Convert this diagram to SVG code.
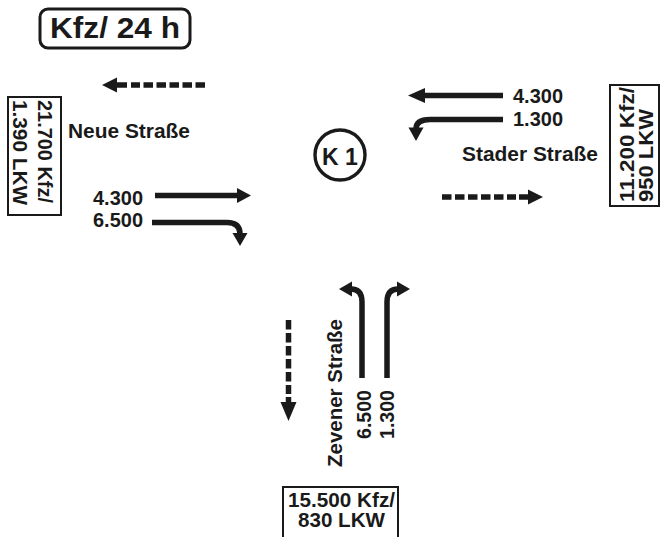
<svg xmlns="http://www.w3.org/2000/svg" width="661" height="537" viewBox="0 0 661 537">
<style>
text{font-family:"Liberation Sans",Arial,sans-serif;font-weight:bold;fill:#1a1a1a}
.lbl{font-size:20px}
.box{fill:none;stroke:#1a1a1a;stroke-width:2}
.shaft{fill:none;stroke:#1a1a1a;stroke-width:5.5}
.dash{fill:none;stroke:#1a1a1a;stroke-width:5.5;stroke-dasharray:9.5 3.5}
.head{fill:#1a1a1a}
</style>
<rect width="661" height="537" fill="#fff"/>
<g id="title">
<rect x="40" y="9" width="150" height="39" rx="8" fill="none" stroke="#1a1a1a" stroke-width="3"/>
<text x="50" y="38" font-size="30" textLength="130" lengthAdjust="spacingAndGlyphs">Kfz/ 24 h</text>
</g>
<g id="k1">
<circle cx="340" cy="155" r="25" fill="none" stroke="#1a1a1a" stroke-width="3.4"/>
<text x="340" y="165" font-size="23" text-anchor="middle">K 1</text>
</g>
<g id="neue-strasse">
<rect class="box" x="8" y="97" width="53" height="118"/>
<text class="lbl" transform="translate(38,100) rotate(90)" textLength="103" lengthAdjust="spacingAndGlyphs">21.700 Kfz/</text>
<text class="lbl" transform="translate(13,100) rotate(90)" textLength="105" lengthAdjust="spacingAndGlyphs">1.390 LKW</text>
<text class="lbl" x="68" y="138" textLength="122" lengthAdjust="spacingAndGlyphs">Neue Straße</text>
<text class="lbl" x="93" y="205" textLength="50" lengthAdjust="spacingAndGlyphs">4.300</text>
<text class="lbl" x="93" y="227" textLength="50" lengthAdjust="spacingAndGlyphs">6.500</text>
</g>
<g id="stader-strasse">
<rect class="box" x="610" y="85" width="49" height="121"/>
<text class="lbl" transform="translate(634,202) rotate(-90)" textLength="115" lengthAdjust="spacingAndGlyphs">11.200 Kfz/</text>
<text class="lbl" transform="translate(653,202) rotate(-90)" textLength="93" lengthAdjust="spacingAndGlyphs">950 LKW</text>
<text class="lbl" x="462" y="161" textLength="136" lengthAdjust="spacingAndGlyphs">Stader Straße</text>
<text class="lbl" x="513" y="103" textLength="50" lengthAdjust="spacingAndGlyphs">4.300</text>
<text class="lbl" x="513" y="126" textLength="50" lengthAdjust="spacingAndGlyphs">1.300</text>
</g>
<g id="zevener-strasse">
<rect class="box" x="283" y="487" width="115" height="60"/>
<text class="lbl" x="288" y="507" textLength="107" lengthAdjust="spacingAndGlyphs">15.500 Kfz/</text>
<text class="lbl" x="298" y="527" textLength="87" lengthAdjust="spacingAndGlyphs">830 LKW</text>
<text class="lbl" transform="translate(342,467) rotate(-90)" textLength="148" lengthAdjust="spacingAndGlyphs">Zevener Straße</text>
<text class="lbl" transform="translate(371,439) rotate(-90)" textLength="49" lengthAdjust="spacingAndGlyphs">6.500</text>
<text class="lbl" transform="translate(394,439) rotate(-90)" textLength="49" lengthAdjust="spacingAndGlyphs">1.300</text>
</g>
<g id="connectors">
<!-- Neue Straße outgoing (dashed, west) -->
<line class="dash" x1="205" y1="85" x2="131" y2="85"/>
<line class="shaft" x1="127" y1="85" x2="114" y2="85"/>
<polygon class="head" points="117,77.5 102,85 117,92.5"/>
<!-- Neue Straße incoming straight -->
<line class="shaft" x1="155" y1="195.5" x2="239" y2="195.5"/>
<polygon class="head" points="237,188 251,195.5 237,203"/>
<!-- Neue Straße incoming right turn -->
<path class="shaft" d="M152,222.5 H227 Q240,222.5 240,234"/>
<polygon class="head" points="232.5,233 247.5,233 240,246"/>
<!-- Stader Straße incoming straight -->
<line class="shaft" x1="503" y1="95.5" x2="422" y2="95.5"/>
<polygon class="head" points="425,88 408,95.5 425,103"/>
<!-- Stader Straße incoming left turn -->
<path class="shaft" d="M503,119.5 H430 Q416,119.5 416,129"/>
<polygon class="head" points="408.5,127.5 423.5,127.5 416,141"/>
<!-- Stader Straße outgoing (dashed, east) -->
<line class="dash" x1="442" y1="197" x2="516" y2="197"/>
<line class="shaft" x1="519" y1="197" x2="531" y2="197"/>
<polygon class="head" points="528,189.5 543,197 528,204.5"/>
<!-- Zevener Straße outgoing (dashed, south) -->
<line class="dash" x1="288.5" y1="320" x2="288.5" y2="394"/>
<line class="shaft" x1="288.5" y1="397" x2="288.5" y2="405"/>
<polygon class="head" points="280.5,402 288.5,421 296.5,402"/>
<!-- Zevener Straße incoming left turn -->
<path class="shaft" d="M362,378 V302 Q362,289 351,289"/>
<polygon class="head" points="352,281.5 339,289 352,296.5"/>
<!-- Zevener Straße incoming right turn -->
<path class="shaft" d="M387,378 V302 Q387,289 398,289"/>
<polygon class="head" points="397,281.5 410,289 397,296.5"/>
</g>
</svg>
